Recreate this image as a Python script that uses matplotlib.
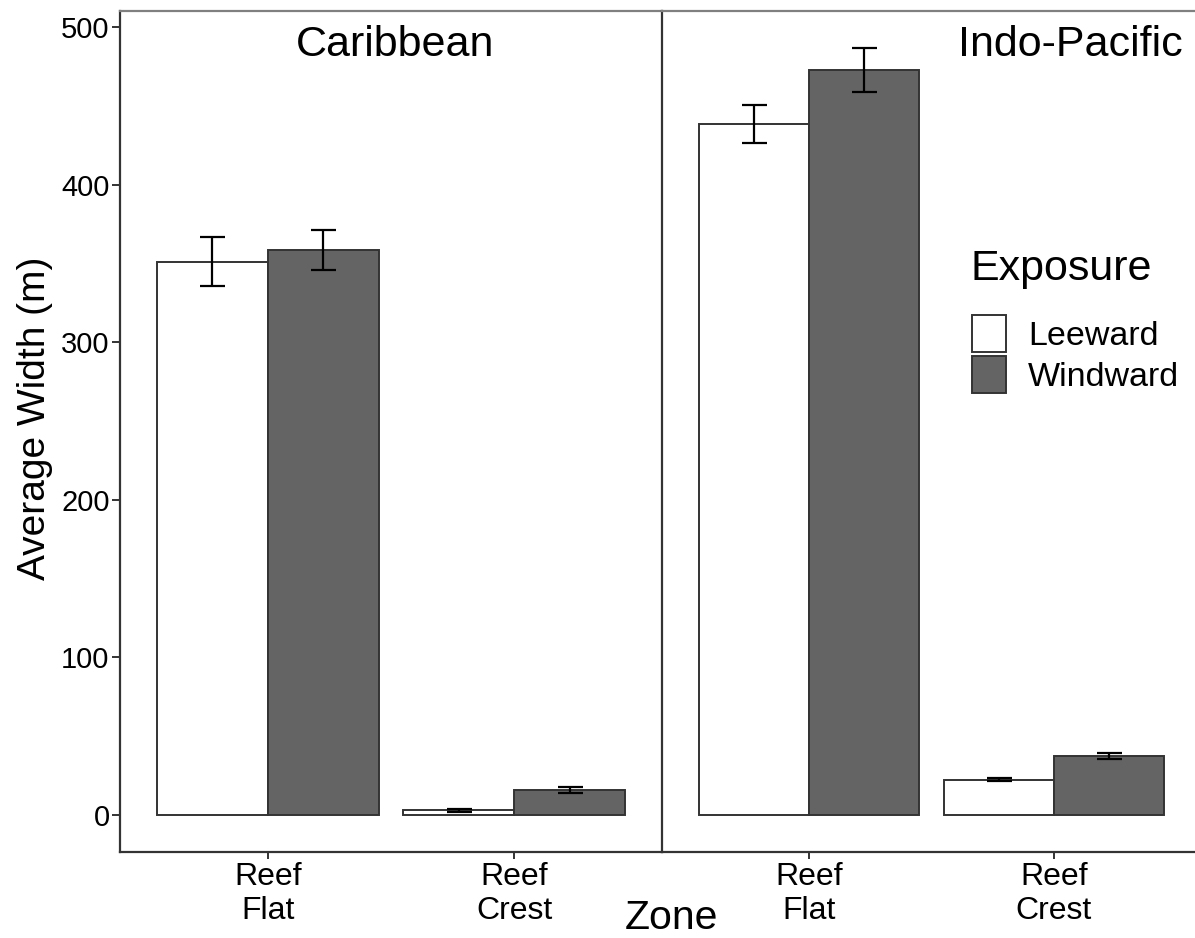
import numpy as np
import matplotlib
matplotlib.use("Agg")
import matplotlib.pyplot as plt
from matplotlib.patches import Patch

plt.rcParams['font.family'] = ['Liberation Sans', 'DejaVu Sans']

# data
zones = ["Reef\nFlat", "Reef\nCrest"]
regions = ["Caribbean", "Indo-Pacific"]
exposure = ["Leeward", "Windward"]

car_leeward = [351, 3]
car_leeward_se = [15.5, 0.8]
car_windward = [358.5, 16]
car_windward_se = [12.5, 2]

ip_leeward = [438.5, 22.5]
ip_leeward_se = [11.8, 1.2]
ip_windward = [473, 37.5]
ip_windward_se = [14, 2]

yticks = [0, 100, 200, 300, 400, 500]

W, H = 1195, 938
fig = plt.figure(figsize=(W / 100, H / 100), dpi=100)

def px_box(x0, x1, y0, y1):
    # pixel coords (top-left origin) -> figure fraction
    return [x0 / W, 1 - y1 / H, (x1 - x0) / W, (y1 - y0) / H]

ax1 = fig.add_axes(px_box(120, 662, 11, 852))
ax2 = fig.add_axes(px_box(662, 1195, 11, 852))

edge = "#333333"
dark = "#646464"
bw = 0.45
x = np.arange(1, len(zones) + 1)

panels = [
    (ax1, car_leeward, car_leeward_se, car_windward, car_windward_se, (0.4, 2.6)),
    (ax2, ip_leeward, ip_leeward_se, ip_windward, ip_windward_se, (0.4, 2.576)),
]

for ax, lee, lee_se, wind, wind_se, xl in panels:
    ax.bar(x - bw / 2, lee, width=bw, color="white", edgecolor=edge, linewidth=1.4, zorder=2)
    ax.bar(x + bw / 2, wind, width=bw, color=dark, edgecolor=edge, linewidth=1.4, zorder=2)
    ax.errorbar(x - bw / 2, lee, yerr=lee_se, fmt="none", ecolor="black",
                elinewidth=1.6, capsize=9, capthick=1.6, zorder=3)
    ax.errorbar(x + bw / 2, wind, yerr=wind_se, fmt="none", ecolor="black",
                elinewidth=1.6, capsize=9, capthick=1.6, zorder=3)
    ax.set_xlim(*xl)
    ax.set_ylim(-23.5, 510.2)
    ax.set_xticks(x)
    ax.set_xticklabels(zones, fontsize=23, linespacing=1.2)
    ax.tick_params(axis="x", length=5, width=1.4, color=edge, pad=2)
    ax.spines["right"].set_visible(False)
    for s in ["left", "bottom"]:
        ax.spines[s].set_color(edge)
        ax.spines[s].set_linewidth(1.6)
    ax.spines["top"].set_color("#808080")
    ax.spines["top"].set_linewidth(1.6)

ax1.set_yticks(yticks)
ax1.set_yticklabels([str(v) for v in yticks], fontsize=21)
ax1.tick_params(axis="y", length=5.5, width=1.4, color=edge, pad=2)
ax2.set_yticks([])

ax1.text(0.507, 0.96, regions[0], transform=ax1.transAxes, ha="center", va="center", fontsize=31)
ax2.text(0.767, 0.96, regions[1], transform=ax2.transAxes, ha="center", va="center", fontsize=31)

fig.text(672 / W, 1 - 918 / H, "Zone", ha="center", va="center", fontsize=29.5)
fig.text(35 / W, 1 - 418 / H, "Average Width (m)", ha="center", va="center",
         rotation=90, fontsize=28)

# legend: title as its own text, entries below it
fig.text(970 / W, 1 - 280 / H, "Exposure", ha="left", va="baseline", fontsize=31)
handles = [Patch(facecolor="white", edgecolor=edge, linewidth=1.4),
           Patch(facecolor=dark, edgecolor=edge, linewidth=1.4)]
leg = ax2.legend(handles, exposure, loc="upper left",
                 bbox_to_anchor=(972 / W, 1 - 315 / H), bbox_transform=fig.transFigure,
                 frameon=False, fontsize=24.5,
                 handlelength=1.0, handleheight=1.275, labelspacing=0.13,
                 handletextpad=0.65, borderpad=0, borderaxespad=0)

fig.savefig("out.png", dpi=100)
